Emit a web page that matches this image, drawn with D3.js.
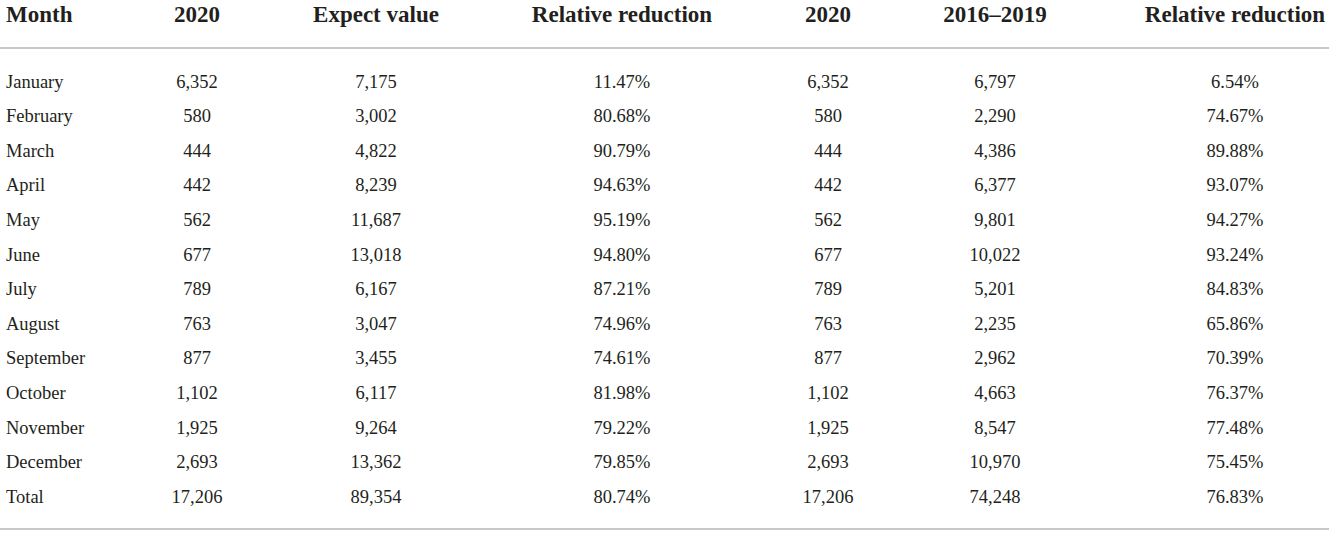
<!DOCTYPE html>
<meta charset="utf-8">
<title>Monthly cases 2020 vs expected</title>
<body>
<script src="https://cdn.jsdelivr.net/npm/d3@7"></script>
<style>
html, body {
    margin: 0;
    background: #fff;
}
svg {
    display: block;
    font-family: "Liberation Serif", "Times New Roman", serif;
    fill: #231f20;
}
.head {
    font-weight: bold;
    font-size: 23px;
}
.cell {
    font-size: 18.5px;
}
.rule {
    stroke: #c8c8c8;
    stroke-width: 2;
}
</style>
<script>
var width = 1334,
    height = 535;

var headers = ["Month", "2020", "Expect value", "Relative reduction", "2020", "2016\u20132019", "Relative reduction"];

var months = ["January", "February", "March", "April", "May", "June", "July",
    "August", "September", "October", "November", "December", "Total"];

var cases2020 = [6352, 580, 444, 442, 562, 677, 789, 763, 877, 1102, 1925, 2693, 17206];
var expected = [7175, 3002, 4822, 8239, 11687, 13018, 6167, 3047, 3455, 6117, 9264, 13362, 89354];
var reductionExpected = [11.47, 80.68, 90.79, 94.63, 95.19, 94.80, 87.21, 74.96, 74.61, 81.98, 79.22, 79.85, 80.74];
var average1619 = [6797, 2290, 4386, 6377, 9801, 10022, 5201, 2235, 2962, 4663, 8547, 10970, 74248];
var reductionAverage = [6.54, 74.67, 89.88, 93.07, 94.27, 93.24, 84.83, 65.86, 70.39, 76.37, 77.48, 75.45, 76.83];

var num = d3.format(","),
    pct = function(v) { return v.toFixed(2) + "%"; };

var columns = [
    { values: months, fmt: String },
    { values: cases2020, fmt: num },
    { values: expected, fmt: num },
    { values: reductionExpected, fmt: pct },
    { values: cases2020, fmt: num },
    { values: average1619, fmt: num },
    { values: reductionAverage, fmt: pct }
];

// column centres (first column is left aligned)
var x = d3.scaleOrdinal()
    .domain(d3.range(columns.length))
    .range([6, 197, 376, 622, 828, 995, 1235]);

var y = d3.scaleLinear()
    .domain([0, months.length - 1])
    .range([87.5, 502.7]);

var svg = d3.select("body").append("svg")
    .attr("width", width)
    .attr("height", height);

svg.append("line").attr("class", "rule")
    .attr("x1", 0).attr("x2", 1329).attr("y1", 48).attr("y2", 48);
svg.append("line").attr("class", "rule")
    .attr("x1", 0).attr("x2", 1329).attr("y1", 529).attr("y2", 529);

svg.append("g").selectAll("text")
    .data(headers)
    .enter().append("text")
    .attr("class", "head")
    .attr("x", function(d, i) { return x(i); })
    .attr("y", 22)
    .attr("text-anchor", function(d, i) { return i === 0 ? "start" : "middle"; })
    .text(function(d) { return d; });

var col = svg.append("g").selectAll("g")
    .data(columns)
    .enter().append("g");

col.selectAll("text")
    .data(function(c, ci) { return c.values.map(function(v, ri) { return { v: v, ri: ri, ci: ci, fmt: c.fmt }; }); })
    .enter().append("text")
    .attr("class", "cell")
    .attr("x", function(d) { return x(d.ci); })
    .attr("y", function(d) { return y(d.ri); })
    .attr("text-anchor", function(d) { return d.ci === 0 ? "start" : "middle"; })
    .text(function(d) { return d.fmt(d.v); });
</script>
